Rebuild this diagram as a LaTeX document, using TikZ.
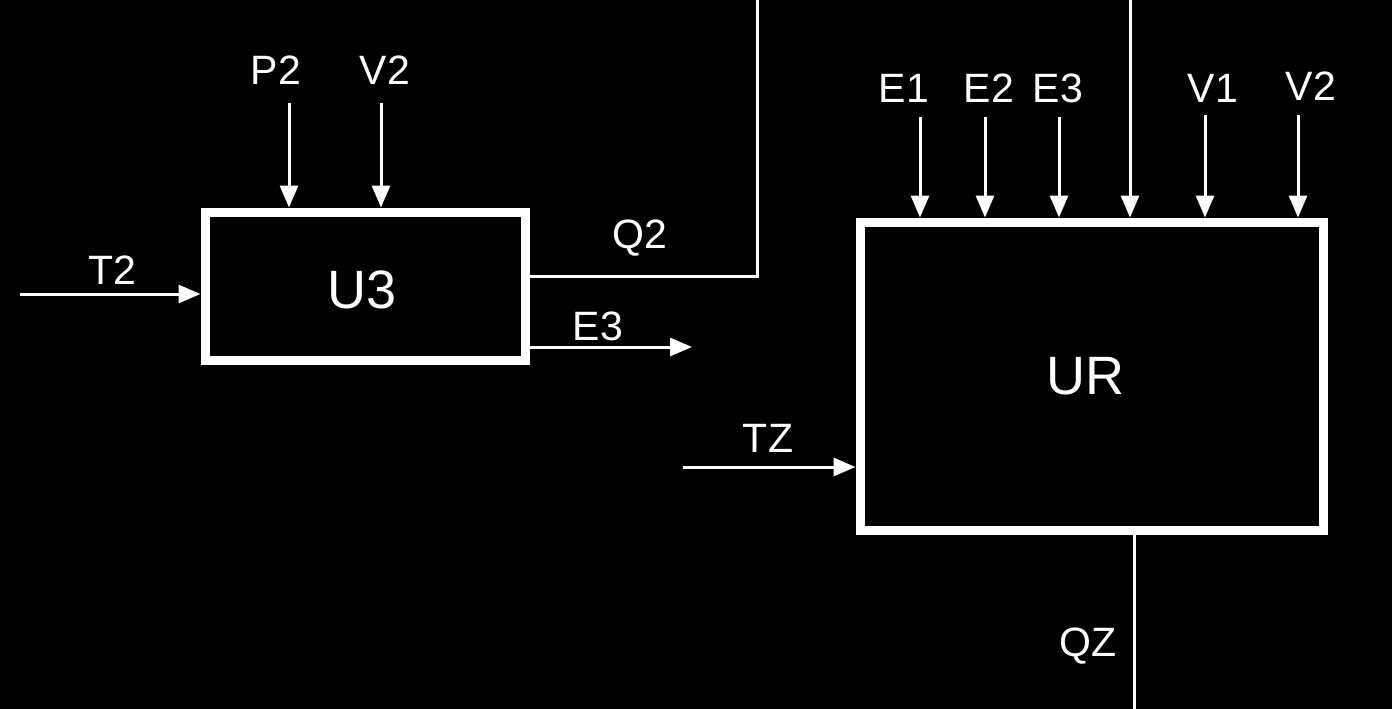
\documentclass[tikz,border=0pt]{standalone}
\usepackage{fontspec}
\setmainfont{Liberation Sans}
\usetikzlibrary{arrows.meta}
\begin{document}
\begin{tikzpicture}[x=1pt,y=-1pt,
  blk/.style={draw=white,line width=9pt,minimum width=#1,inner sep=0pt},
  lbl/.style={text=white,font=\fontsize{41}{41}\selectfont,inner sep=0pt},
  big/.style={text=white,font=\fontsize{54}{54}\selectfont,inner sep=0pt},
  conn/.style={draw=white,line width=3pt},
  arr/.style={conn,-{Triangle[length=22pt,width=18pt]}}]
\fill[black] (0,0) rectangle (1392,709);
\useasboundingbox (0,0) rectangle (1392,709);
% U3
\node[blk=320pt,minimum height=148pt] (U3) at (365,286) {};
\node[big] (U3t) at (362,290) {U3};
\node[lbl] (P2l) at (276,70) {P2};
\node[lbl] (V2al) at (385,70) {V2};
\coordinate (P2s) at (289,103);
\coordinate (V2as) at (381,103);
\draw[arr] (P2s) -- (P2s |- U3.north);
\draw[arr] (V2as) -- (V2as |- U3.north);
\node[lbl] (T2l) at (112,270) {T2};
\coordinate (T2s) at (20,294);
\draw[arr] (T2s) -- (T2s -| U3.west);
\node[lbl] (Q2l) at (640,238) {Q2};
\coordinate (Q2a) at (530,276);
\coordinate (Q2b) at (757,276);
\coordinate (Q2c) at (757,0);
\draw[conn] (Q2a -| U3.east) -- (Q2b) -- (Q2c);
\node[lbl] (E3ol) at (598,326) {E3};
\coordinate (E3a) at (530,347);
\coordinate (E3e) at (692,347);
\draw[arr] (E3a -| U3.east) -- (E3e);
% UR
\node[blk=463pt,minimum height=308pt] (UR) at (1091.5,376) {};
\node[big] (URt) at (1085,376) {UR};
\node[lbl] (E1l) at (904,88) {E1};
\node[lbl] (E2l) at (989,88) {E2};
\node[lbl] (E3l) at (1058,88) {E3};
\node[lbl] (V1l) at (1213,88) {V1};
\node[lbl] (V2bl) at (1311,86) {V2};
\coordinate (E1s) at (920,117);
\coordinate (E2s) at (985,117);
\coordinate (E3s) at (1059,117);
\coordinate (Ms) at (1130,0);
\coordinate (V1s) at (1205,115);
\coordinate (V2bs) at (1298,115);
\foreach \s in {E1s,E2s,E3s,Ms,V1s,V2bs}
  \draw[arr] (\s) -- (\s |- UR.north);
\node[lbl] (TZl) at (768,438) {TZ};
\coordinate (TZs) at (683,467);
\draw[arr] (TZs) -- (TZs -| UR.west);
\node[lbl] (QZl) at (1088,646) {QZ};
\coordinate (QZe) at (1134,709);
\draw[conn] (QZe |- UR.south) -- (QZe);
\end{tikzpicture}
\end{document}
